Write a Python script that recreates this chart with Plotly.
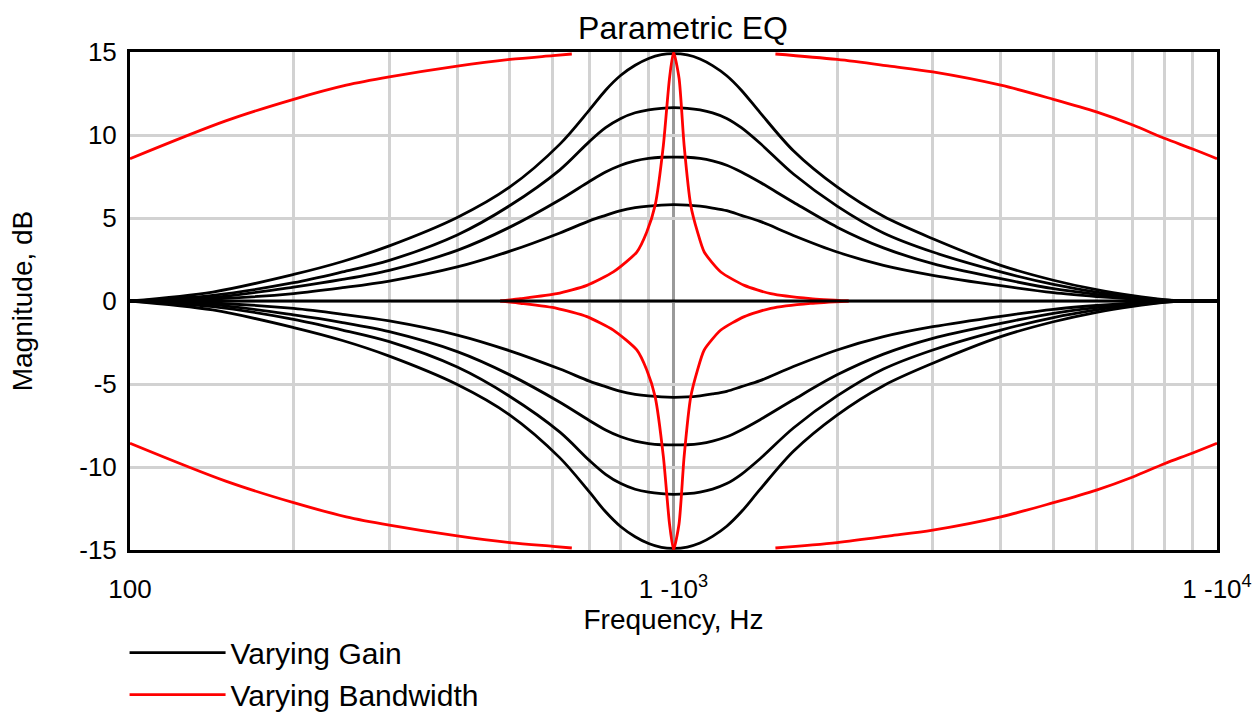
import plotly.graph_objects as go

# ---- Data ----
freq_gain = [100, 142, 200, 246, 300, 400, 500, 618, 700, 750, 800, 850, 900, 950,
             1000, 1060, 1119, 1180, 1253, 1333, 1443, 1662, 2000, 2434, 3000,
             4000, 5000, 6000, 7000, 8000, 8600, 10000]
gain_15 = [0, 0.54, 1.6, 2.38, 3.32, 5.03, 6.87, 9.45, 11.5, 12.7, 13.6, 14.2, 14.61, 14.84,
           14.9, 14.82, 14.58, 14.18, 13.57, 12.7, 11.35, 9.05, 6.87, 5.1, 3.75,
           2.15, 1.25, 0.68, 0.32, 0.08, 0, 0]
gain_11 = [0, 0.34, 1.1, 1.75, 2.45, 3.98, 5.75, 7.9, 9.6, 10.44, 11.0, 11.34, 11.52, 11.61,
           11.65, 11.61, 11.51, 11.33, 11.0, 10.44, 9.5, 7.65, 5.72, 4.1, 2.95,
           1.75, 1.0, 0.54, 0.24, 0.06, 0, 0]
gain_8 = [0, 0.22, 0.84, 1.3, 1.85, 3.05, 4.45, 6.1, 7.2, 7.77, 8.18, 8.44, 8.59, 8.66,
          8.67, 8.66, 8.59, 8.44, 8.18, 7.77, 7.15, 5.95, 4.45, 3.2, 2.25,
          1.35, 0.74, 0.4, 0.18, 0.04, 0, 0]
gain_5 = [0, 0.12, 0.45, 0.8, 1.2, 2.05, 3.0, 4.1, 4.83, 5.16, 5.45, 5.62, 5.72, 5.78,
          5.8, 5.78, 5.71, 5.6, 5.44, 5.16, 4.8, 3.95, 2.95, 2.15, 1.55,
          0.92, 0.5, 0.27, 0.12, 0.03, 0, 0]
cut_5 = [0, -0.12, -0.45, -0.8, -1.2, -2.05, -3.0, -4.1, -4.83, -5.16, -5.45, -5.62, -5.72, -5.78,
         -5.8, -5.78, -5.71, -5.6, -5.44, -5.16, -4.8, -3.95, -2.95, -2.15, -1.55,
         -0.92, -0.5, -0.27, -0.12, -0.03, 0, 0]
cut_8 = [0, -0.22, -0.84, -1.3, -1.85, -3.05, -4.45, -6.1, -7.2, -7.77, -8.18, -8.44, -8.59, -8.66,
         -8.67, -8.66, -8.59, -8.44, -8.18, -7.77, -7.15, -5.95, -4.45, -3.2, -2.25,
         -1.35, -0.74, -0.4, -0.18, -0.04, 0, 0]
cut_11 = [0, -0.34, -1.1, -1.75, -2.45, -3.98, -5.75, -7.9, -9.6, -10.44, -11.0, -11.34, -11.52, -11.61,
          -11.65, -11.61, -11.51, -11.33, -11.0, -10.44, -9.5, -7.65, -5.72, -4.1, -2.95,
          -1.75, -1.0, -0.54, -0.24, -0.06, 0, 0]
cut_15 = [0, -0.54, -1.6, -2.38, -3.32, -5.03, -6.87, -9.45, -11.5, -12.7, -13.6, -14.2, -14.61, -14.84,
          -14.9, -14.82, -14.58, -14.18, -13.57, -12.7, -11.35, -9.05, -6.87, -5.1, -3.75,
          -2.15, -1.25, -0.68, -0.32, -0.08, 0, 0]
freq_flat = [100, 10000]
gain_0 = [0, 0]

freq_narrow = [480, 523, 610, 693, 775, 856, 893, 925, 958, 983, 1000,
               1024, 1046, 1076, 1107, 1139, 1222, 1350, 1510, 1787, 2100]
boost_narrow = [0, 0.14, 0.44, 0.94, 1.75, 2.95, 4.16, 5.76, 9.38, 13.4, 15,
                13.4, 9.38, 5.76, 4.16, 2.95, 1.75, 0.94, 0.44, 0.14, 0]
cut_narrow = [0, -0.14, -0.44, -0.94, -1.75, -2.95, -4.16, -5.76, -9.38, -13.4, -15,
              -13.4, -9.38, -5.76, -4.16, -2.95, -1.75, -0.94, -0.44, -0.14, 0]

freq_wide = [100, 150, 200, 250, 300, 400, 500, 600, 650, None,
             1540, 2000, 2500, 3000, 4000, 5000, 6000, 7000, 8000, 9000, 10000]
boost_wide = [8.57, 10.85, 12.15, 13.0, 13.5, 14.15, 14.55, 14.78, 14.88, None,
              14.88, 14.55, 14.15, 13.8, 13.0, 12.15, 11.39, 10.6, 9.8, 9.17, 8.57]
cut_wide = [-8.57, -10.85, -12.15, -13.0, -13.5, -14.15, -14.55, -14.78, -14.88, None,
            -14.88, -14.55, -14.15, -13.8, -13.0, -12.15, -11.39, -10.6, -9.8, -9.17, -8.57]

x_tickvals = [100, 1000, 10000]
x_ticktext = ["100", "1 -10<sup>3</sup>", "1 -10<sup>4</sup>"]
x_minor = [200, 300, 400, 500, 600, 700, 800, 900,
           2000, 3000, 4000, 5000, 6000, 7000, 8000, 9000]
y_tickvals = [-15, -10, -5, 0, 5, 10, 15]
y_ticktext = ["-15", "-10", "-5", "0", "5", "10", "15"]

FONT = "Liberation Sans, Arial, Helvetica, sans-serif"
BLACK = "#000000"
RED = "#ff0000"
LW = 2.8

fig = go.Figure()

gain_series = [gain_15, gain_11, gain_8, gain_5, cut_5, cut_8, cut_11, cut_15]
for i, ys in enumerate(gain_series):
    fig.add_trace(go.Scatter(
        x=freq_gain, y=ys, mode="lines",
        line=dict(color=BLACK, width=LW, shape="spline", smoothing=0.9),
        name="Varying Gain", legendgroup="gain", showlegend=(i == 0),
        hoverinfo="skip"))

for ys in [boost_wide, cut_wide]:
    fig.add_trace(go.Scatter(
        x=freq_wide, y=ys, mode="lines", connectgaps=False,
        line=dict(color=RED, width=LW, shape="spline", smoothing=0.9),
        name="Varying Bandwidth", legendgroup="bw", showlegend=False,
        hoverinfo="skip"))

for i, ys in enumerate([boost_narrow, cut_narrow]):
    fig.add_trace(go.Scatter(
        x=freq_narrow, y=ys, mode="lines",
        line=dict(color=RED, width=LW, shape="spline", smoothing=0.6),
        name="Varying Bandwidth", legendgroup="bw", showlegend=(i == 0),
        hoverinfo="skip"))

fig.add_trace(go.Scatter(
    x=freq_flat, y=gain_0, mode="lines",
    line=dict(color=BLACK, width=LW),
    name="Varying Gain", legendgroup="gain", showlegend=False,
    hoverinfo="skip"))

fig.update_layout(
    width=1258, height=716,
    margin=dict(l=130, r=41, t=52, b=166, autoexpand=False),
    paper_bgcolor="white", plot_bgcolor="white",
    font=dict(family=FONT, color="black", size=26),
    title=dict(text="Parametric EQ", x=683 / 1258, xref="container", xanchor="center",
               y=1 - 28 / 716, yref="container", yanchor="middle",
               font=dict(size=32, family=FONT, color="black")),
    showlegend=True,
    legend=dict(x=-0.005, xanchor="left", y=-0.154, yanchor="top",
                font=dict(size=30, family=FONT, color="black"),
                bgcolor="rgba(0,0,0,0)", itemwidth=96, tracegroupgap=0,
                traceorder="normal"),
)

fig.update_xaxes(
    type="log", range=[2, 4], automargin=False,
    tickmode="array", tickvals=x_tickvals, ticktext=x_ticktext,
    ticks="", ticklabelstandoff=14,
    tickfont=dict(size=26, family=FONT, color="black"),
    showgrid=True, gridcolor="#9a9a9a", gridwidth=2.5,
    minor=dict(tickmode="array", tickvals=x_minor, showgrid=True,
               gridcolor="#d2d2d2", gridwidth=3, ticks=""),
    showline=True, linecolor="black", linewidth=3, mirror=True,
    zeroline=False,
    title=dict(text="Frequency, Hz", standoff=4,
               font=dict(size=28, family=FONT, color="black")),
)

fig.update_yaxes(
    range=[-15, 15], automargin=False,
    tickmode="array", tickvals=y_tickvals, ticktext=y_ticktext,
    ticks="", ticklabelstandoff=5,
    tickfont=dict(size=26, family=FONT, color="black"),
    showgrid=True, gridcolor="#d2d2d2", gridwidth=3,
    showline=True, linecolor="black", linewidth=3, mirror=True,
    zeroline=False,
    title=dict(text="Magnitude, dB", standoff=39,
               font=dict(size=28, family=FONT, color="black")),
)

fig.write_html(
    "out.html",
    config={"displayModeBar": False},
    post_script="document.body.style.margin='0px';document.body.style.overflow='hidden';",
)
